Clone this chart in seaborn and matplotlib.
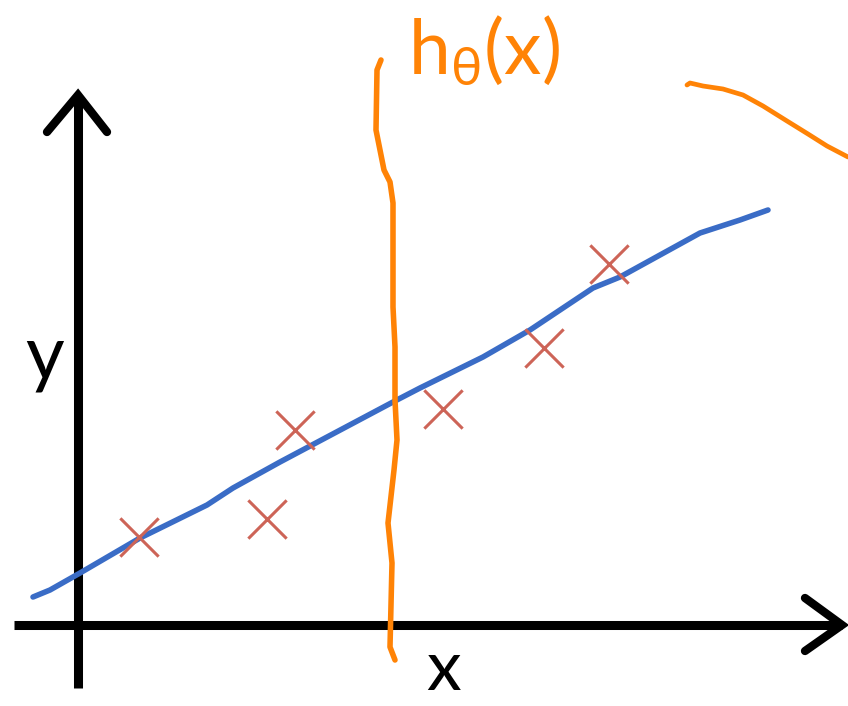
import matplotlib
matplotlib.use("Agg")
import matplotlib.pyplot as plt
import seaborn as sns
import pandas as pd

sns.set_theme(style="white")
plt.rcParams["font.family"] = ["Lato", "DejaVu Sans"]
plt.rcParams["mathtext.fontset"] = "custom"
plt.rcParams["mathtext.rm"] = "Lato"
plt.rcParams["mathtext.it"] = "Lato"

# training examples (x, y)
sample_x = [6.1, 18.9, 21.7, 36.5, 46.6, 53.1]
sample_y = [8.8, 10.6, 19.5, 21.6, 27.7, 36.1]

# fitted hypothesis line, sketched by hand
fit_x = [-4.5, -2.8, 0.2, 6.2, 12.9, 15.5, 20.2, 31.5, 34.2, 40.5, 45.2, 51.5, 54.2, 62.2, 66.2, 69.0]
fit_y = [2.8, 3.5, 5.2, 8.7, 12.0, 13.7, 16.3, 22.3, 23.7, 26.8, 29.5, 33.7, 34.8, 39.2, 40.5, 41.5]

# orange callout stroke pointing at the fitted line
call_x = [30.3, 29.9, 29.8, 30.6, 31.2, 31.5, 31.5, 31.7, 31.7, 31.9, 31.6, 31.0, 31.4, 31.2, 31.7]
call_y = [56.5, 55.5, 49.5, 45.5, 44.3, 42.2, 31.8, 27.8, 22.5, 18.5, 15.5, 10.2, 6.2, -2.2, -3.5]

# trailing stroke at the top right
tail_x = [60.9, 61.2, 62.5, 64.5, 66.5, 68.5, 70.9, 73.0, 74.9, 77.0]
tail_y = [54.0, 54.2, 53.9, 53.6, 53.0, 51.9, 50.4, 49.1, 47.9, 46.8]

# axis extents
x_axis = [-6.4, 76.4]
y_axis = [-6.3, 53.0]

BLUE = "#3a6cc6"
ORANGE = "#ff8306"
RED = "#cd6457"

fig = plt.figure(figsize=(8.48, 7.06), dpi=100)
ax = fig.add_axes([0, 0, 1, 1])
ax.set_xlim(-7.8, 77.0)
ax.set_ylim(-8.1, 62.5)
ax.axis("off")

# coordinate axes with open arrowheads
axis_kw = dict(color="black", lw=6.5, solid_capstyle="butt", zorder=2)
ax.plot(x_axis, [0, 0], **axis_kw)
ax.plot([0, 0], y_axis, **axis_kw)
head_kw = dict(color="black", lw=6.0, solid_capstyle="round", solid_joinstyle="miter", zorder=2)
ax.plot([x_axis[1] - 3.7, x_axis[1], x_axis[1] - 3.7], [2.7, 0, -2.6], **head_kw)
ax.plot([-3.1, 0, 2.9], [y_axis[1] - 3.7, y_axis[1], y_axis[1] - 3.7], **head_kw)

ax.text(-3.3, 26.7, "y", fontsize=54, color="black", ha="center", va="center")
ax.text(36.6, -6.5, "x", fontsize=50, color="black", ha="center", va="baseline")

line_kw = dict(sort=False, estimator=None, solid_capstyle="round", solid_joinstyle="round")

fit_df = pd.DataFrame({"x": fit_x, "y": fit_y})
sns.lineplot(data=fit_df, x="x", y="y", color=BLUE, lw=4.0, ax=ax, zorder=3, **line_kw)

pts = pd.DataFrame({"x": sample_x, "y": sample_y})
sns.scatterplot(data=pts, x="x", y="y", marker="x", s=760, color=RED,
                linewidth=2.2, ax=ax, zorder=4)

call_df = pd.DataFrame({"x": call_x, "y": call_y})
sns.lineplot(data=call_df, x="x", y="y", color=ORANGE, lw=4.0, ax=ax, zorder=5, **line_kw)
tail_df = pd.DataFrame({"x": tail_x, "y": tail_y})
sns.lineplot(data=tail_df, x="x", y="y", color=ORANGE, lw=3.4, ax=ax, zorder=5, **line_kw)

ax.text(33.0, 57.5, r"$\mathrm{h}_{\theta}\mathrm{(x)}$", fontsize=54, color=ORANGE,
        ha="left", va="center")

ax.set_xlabel("")
ax.set_ylabel("")
fig.savefig("out.png", dpi=100)
